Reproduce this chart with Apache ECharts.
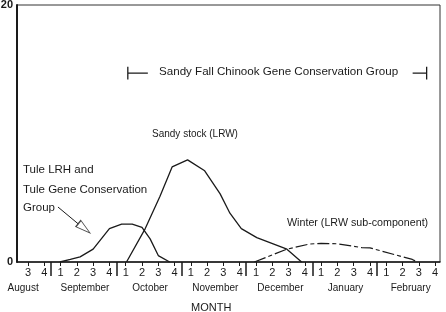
<!DOCTYPE html>
<html>
<head>
<meta charset="utf-8">
<script src="https://cdn.jsdelivr.net/npm/echarts@6/dist/echarts.min.js"></script>
<style>html,body{margin:0;padding:0;background:#fff}#c{width:446px;height:312px}</style>
</head>
<body>
<div id="c"></div>
<script>
// week index k: 0 = August wk3 ... 25 = February wk4
const weekTicks = [0,1,2,3,4,5,6,7,8,9,10,11,12,13,14,15,16,17,18,19,20,21,22,23,24,25];
const weekLabels = ['3','4','1','2','3','4','1','2','3','4','1','2','3','4','1','2','3','4','1','2','3','4','1','2','3','4'];
const monthNames = ['August','September','October','November','December','January','February'];
const monthCenters = [-0.3,3.5,7.5,11.5,15.5,19.5,23.5];
const monthSeparators = [1.4,5.45,9.45,13.4,17.5,21.4];

// curves: [week index, value]
const tule = [[1.96,0],[2.6,0.2],[3.2,0.4],[4.0,1.0],[5.0,2.6],[5.75,2.95],[6.4,2.95],[7.0,2.7],[7.5,1.8],[8.0,0.5],[8.7,0]];
const sandy = [[6.05,0],[7.2,2.6],[8.1,5.1],[8.85,7.4],[9.8,7.95],[10.85,7.1],[11.8,5.3],[12.4,3.8],[13.1,2.6],[14.05,1.9],[15.9,1.0],[16.8,0]];
const winter = [[13.9,0],[15.9,1.0],[17.3,1.4],[18.0,1.45],[19.0,1.42],[20.5,1.12],[21.0,1.1],[23.6,0.2],[23.9,0]];

// annotation bracket & arrow (data coordinates)
const bracketLeft = [[6.13,15.2],[6.13,14.2],[6.13,14.7],[7.36,14.7]];
const bracketRight = [[23.62,14.7],[24.48,14.7],[24.48,15.2],[24.48,14.2]];
const arrowLine = [[1.84,4.28],[3.1,2.95]];
const arrowHead = [[3.45,2.62]];

const ink = '#1a1a1a';
const fnt = 'Liberation Sans, Arial, sans-serif';
const chart = echarts.init(document.getElementById('c'));
const lineSeries = (data, extra) => Object.assign({
  type:'line', data, symbol:'none', smooth:false, silent:true,
  lineStyle:{color:ink, width:1.3}
}, extra||{});

chart.setOption({
  animation:false,
  grid:{left:17, right:6, top:5, bottom:50, containLabel:false, outerBoundsMode:'none',
        show:true, borderColor:'#333', borderWidth:1},
  xAxis:[{
    type:'value', min:-0.675, max:25.3,
    axisLine:{onZero:false, lineStyle:{color:ink, width:1.5}},
    splitLine:{show:false},
    axisTick:{customValues:weekTicks, length:4, lineStyle:{color:ink}},
    axisLabel:{customValues:weekTicks, margin:5, fontSize:11, color:ink, fontFamily:fnt,
      formatter:(v)=>{const i=weekTicks.indexOf(Math.round(v)); return i>=0?weekLabels[i]:'';}}
  },{
    type:'value', min:-0.675, max:25.3, position:'bottom',
    axisLine:{show:false, onZero:false}, splitLine:{show:false},
    axisTick:{show:true, customValues:monthSeparators, length:14, lineStyle:{color:ink, width:1.5}},
    axisLabel:{customValues:monthCenters, margin:21, fontSize:10, color:ink, fontFamily:fnt,
      formatter:(v)=>{let b=0,d=1e9;monthCenters.forEach((c,i)=>{if(Math.abs(c-v)<d){d=Math.abs(c-v);b=i;}});return monthNames[b];}}
  }],
  yAxis:{
    type:'value', min:0, max:20, interval:20,
    axisLine:{show:true, onZero:false, lineStyle:{color:ink, width:2}},
    axisTick:{show:false}, splitLine:{show:false},
    axisLabel:{margin:4, fontSize:11, fontWeight:'bold', color:ink, fontFamily:fnt}
  },
  graphic:[
    {type:'text', left:159, top:66, style:{text:'Sandy Fall Chinook Gene Conservation Group', fontSize:11.6, fill:ink, fontFamily:fnt}},
    {type:'text', left:152, top:129, style:{text:'Sandy stock (LRW)', fontSize:10, fill:ink, fontFamily:fnt}},
    {type:'text', left:287, top:218, style:{text:'Winter (LRW sub-component)', fontSize:10.7, fill:ink, fontFamily:fnt}},
    {type:'text', left:23, top:164, style:{text:'Tule LRH and', fontSize:11.5, fill:ink, fontFamily:fnt}},
    {type:'text', left:23, top:184, style:{text:'Tule Gene Conservation', fontSize:11.5, fill:ink, fontFamily:fnt}},
    {type:'text', left:23, top:202, style:{text:'Group', fontSize:11.5, fill:ink, fontFamily:fnt}},
    {type:'text', left:191, top:302, style:{text:'MONTH', fontSize:11, fill:ink, fontFamily:fnt}}
  ],
  series:[
    lineSeries(tule),
    lineSeries(sandy),
    lineSeries(winter, {lineStyle:{color:ink, width:1.2, type:[12,3,4,3]}}),
    lineSeries(bracketLeft, {lineStyle:{color:ink, width:1.3}}),
    lineSeries(bracketRight, {lineStyle:{color:ink, width:1.3}}),
    lineSeries(arrowLine, {lineStyle:{color:ink, width:1}}),
    {type:'scatter', data:arrowHead, silent:true, symbol:'triangle', symbolSize:[8,15], symbolRotate:-129,
      itemStyle:{color:'#fff', borderColor:ink, borderWidth:1}, z:3}
  ]
});
</script>
</body>
</html>
